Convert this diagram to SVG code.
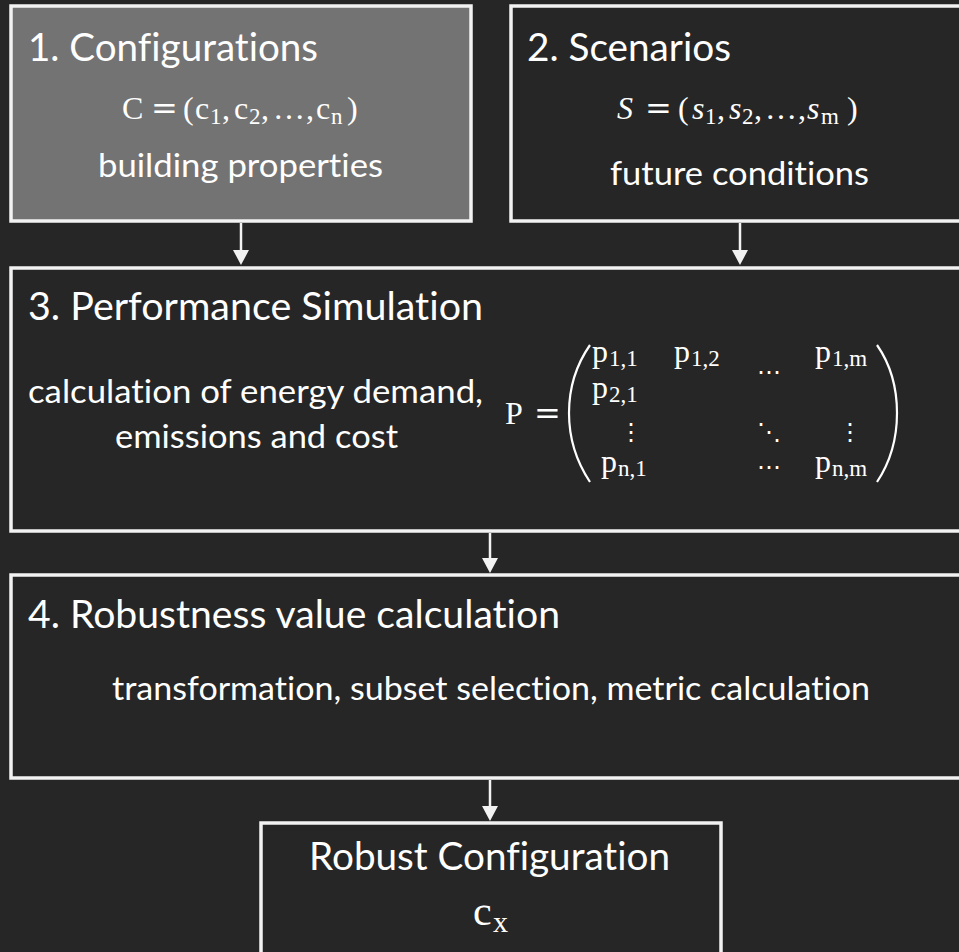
<svg xmlns="http://www.w3.org/2000/svg" width="959" height="952" viewBox="0 0 959 952">
  <defs>
    <style>
      .box { stroke: #f2f2f2; stroke-width: 3.5; }
      .dark { fill: #262626; }
      .grey { fill: #737373; }
      .title { font-family: Lato, "Liberation Sans", sans-serif; font-size: 38px; fill: #ffffff; font-variant-ligatures: none; }
      .body { font-family: Lato, "Liberation Sans", sans-serif; font-size: 33.5px; fill: #ffffff; font-variant-ligatures: none; }
      .m { font-family: "Liberation Serif", "DejaVu Serif", serif; font-size: 32px; fill: #ffffff; }
      .sub { font-size: 23px; }
      .it { font-style: italic; }
      .op { font-family: "DejaVu Serif", serif; }
      .dots { font-family: "DejaVu Serif", serif; font-size: 24px; fill: #ffffff; }
      .conn { stroke: #f2f2f2; stroke-width: 2.5; fill: none; }
      .paren { stroke: #ffffff; stroke-width: 2.2; fill: none; }
    </style>
    <marker id="arrow" viewBox="0 0 15 16" refX="9" refY="8" markerWidth="15" markerHeight="16" markerUnits="userSpaceOnUse" orient="auto">
      <path d="M0,0 L15,8 L0,16 Z" fill="#f2f2f2"/>
    </marker>
  </defs>

  <rect x="0" y="0" width="959" height="952" fill="#262626"/>

  <!-- step 1: configurations -->
  <g id="configurations">
    <rect class="box grey" x="11" y="6" width="460" height="215"/>
    <text class="title" x="28" y="61" textLength="290" lengthAdjust="spacingAndGlyphs">1. Configurations</text>
    <text class="m" y="119">
      <tspan x="122">C</tspan>
      <tspan class="op" x="151">=</tspan>
      <tspan x="183">(</tspan>
      <tspan x="195">c</tspan><tspan class="sub" x="210" y="124">1</tspan><tspan x="222" y="119">,</tspan>
      <tspan x="234">c</tspan><tspan class="sub" x="249" y="124">2</tspan><tspan x="261" y="119">,</tspan>
      <tspan x="273">…</tspan><tspan x="306">,</tspan>
      <tspan x="316">c</tspan><tspan class="sub" x="331" y="124">n</tspan>
      <tspan x="347" y="119">)</tspan>
    </text>
    <text class="body" x="98" y="177" textLength="285" lengthAdjust="spacingAndGlyphs">building properties</text>
  </g>

  <!-- step 2: scenarios -->
  <g id="scenarios">
    <rect class="box dark" x="511" y="6" width="458" height="215"/>
    <text class="title" x="527" y="61" textLength="204" lengthAdjust="spacingAndGlyphs">2. Scenarios</text>
    <text class="m" y="119">
      <tspan class="it" x="617">S</tspan>
      <tspan class="op" x="645">=</tspan>
      <tspan x="678">(</tspan>
      <tspan class="it" x="692">s</tspan><tspan class="sub" x="705" y="124">1</tspan><tspan x="717" y="119">,</tspan>
      <tspan class="it" x="729">s</tspan><tspan class="sub" x="742" y="124">2</tspan><tspan x="754" y="119">,</tspan>
      <tspan x="765">…</tspan><tspan x="798">,</tspan>
      <tspan class="it" x="807">s</tspan><tspan class="sub" x="821" y="124">m</tspan>
      <tspan x="847" y="119">)</tspan>
    </text>
    <text class="body" x="610" y="185" textLength="259" lengthAdjust="spacingAndGlyphs">future conditions</text>
  </g>

  <!-- step 3: performance simulation -->
  <g id="simulation">
    <rect class="box dark" x="11" y="268" width="958" height="263"/>
    <text class="title" x="28" y="320" textLength="455" lengthAdjust="spacingAndGlyphs">3. Performance Simulation</text>
    <text class="body" x="28" y="403" textLength="455" lengthAdjust="spacingAndGlyphs">calculation of energy demand,</text>
    <text class="body" x="115" y="448" textLength="283" lengthAdjust="spacingAndGlyphs">emissions and cost</text>
    <!-- result matrix P -->
    <text class="m" x="505" y="424">P</text>
    <text class="m op" x="534" y="424">=</text>
    <path class="paren" d="M590,345 C574,368 569,392 569,413 C569,434 574,458 590,482"/>
    <path class="paren" d="M877,345 C893,368 897,392 897,413 C897,434 893,458 877,482"/>
    <text class="m" y="362"><tspan x="592">p</tspan><tspan class="sub" x="609" y="366">1,1</tspan></text>
    <text class="m" y="362"><tspan x="674">p</tspan><tspan class="sub" x="691" y="366">1,2</tspan></text>
    <text class="m" y="362"><tspan x="815">p</tspan><tspan class="sub" x="832" y="366">1,m</tspan></text>
    <text class="m" y="398"><tspan x="592">p</tspan><tspan class="sub" x="609" y="402">2,1</tspan></text>
    <text class="m" y="472"><tspan x="601">p</tspan><tspan class="sub" x="618" y="476">n,1</tspan></text>
    <text class="m" y="472"><tspan x="815">p</tspan><tspan class="sub" x="832" y="476">n,m</tspan></text>
    <text class="dots" x="757" y="380">⋯</text>
    <text class="dots" x="757" y="475">⋯</text>
    <text class="dots" x="619" y="440">⋮</text>
    <text class="dots" x="838" y="440">⋮</text>
    <text class="dots" x="757" y="440">⋱</text>
  </g>

  <!-- step 4: robustness value -->
  <g id="robustness">
    <rect class="box dark" x="11" y="575" width="958" height="203"/>
    <text class="title" x="28" y="628" textLength="532" lengthAdjust="spacingAndGlyphs">4. Robustness value calculation</text>
    <text class="body" x="112" y="700" textLength="758" lengthAdjust="spacingAndGlyphs">transformation, subset selection, metric calculation</text>
  </g>

  <!-- result -->
  <g id="robust-configuration">
    <rect class="box dark" x="261" y="823" width="460" height="150"/>
    <text class="title" x="309" y="870" textLength="361" lengthAdjust="spacingAndGlyphs">Robust Configuration</text>
    <text class="m" y="925" style="font-size:42px"><tspan x="473">c</tspan><tspan x="493" y="932" style="font-size:30px">x</tspan></text>
  </g>

  <!-- connectors -->
  <g id="connectors">
    <line class="conn" x1="241" y1="223" x2="241" y2="259" marker-end="url(#arrow)"/>
    <line class="conn" x1="740" y1="223" x2="740" y2="259" marker-end="url(#arrow)"/>
    <line class="conn" x1="490" y1="533" x2="490" y2="567" marker-end="url(#arrow)"/>
    <line class="conn" x1="490" y1="780" x2="490" y2="815" marker-end="url(#arrow)"/>
  </g>
</svg>
